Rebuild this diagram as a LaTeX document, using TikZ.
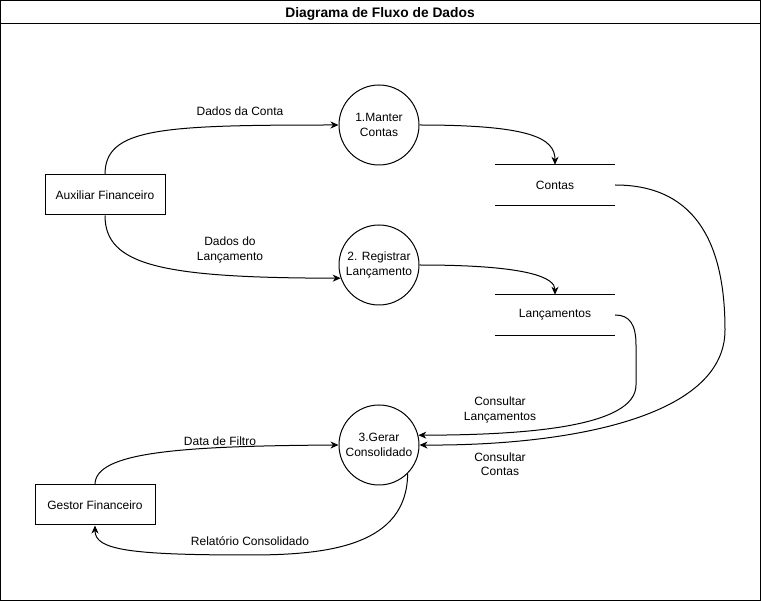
\documentclass[tikz,border=0pt]{standalone}
\usepackage{fontspec}
\setmainfont{Liberation Sans}
\usetikzlibrary{arrows.meta}
\begin{document}
\begin{tikzpicture}[x=1pt,y=-1pt,
  every node/.style={font=\fontsize{12}{14.5}\selectfont, align=center, inner sep=0pt},
  proc/.style={circle, draw, line width=1pt, minimum size=80pt},
  ent/.style={rectangle, draw, line width=1pt, minimum width=120pt, minimum height=40pt},
  store/.style={minimum width=120pt, minimum height=40pt},
  flow/.style={line width=1pt, -{Stealth[length=8pt,width=7pt,inset=2.5pt]}},
  lbl/.style={fill=none}]
\useasboundingbox (0,0) rectangle (761,601);
% frame
\draw[line width=1pt] (0.5,0.5) rectangle (760.5,600.5);
\draw[line width=1pt] (0.5,23.5) -- (760.5,23.5);
\node[font=\fontsize{13.8}{16}\selectfont\bfseries] (title) at (380,13.5) {Diagrama de Fluxo de Dados};
% nodes
\node[proc] (c1) at (379,125) {1.Manter\\Contas};
\node[proc] (c2) at (379,265) {2. Registrar\\Lançamento};
\node[proc] (c3) at (379,445) {3.Gerar\\Consolidado};
\node[ent] (aux) at (105,195) {Auxiliar Financeiro};
\node[ent] (ges) at (95,505) {Gestor Financeiro};
\node[store] (contas) at (555,185) {Contas};
\node[store] (lanc) at (555,315) {Lançamentos};
\draw[line width=1pt] (contas.north west) -- (contas.north east) (contas.south west) -- (contas.south east);
\draw[line width=1pt] (lanc.north west) -- (lanc.north east) (lanc.south west) -- (lanc.south east);
% flows
\draw[flow] (aux.north) .. controls (105,128) and (160,125) .. (c1.west);
\draw[flow] (aux.south) .. controls (105,265) and (160,278) .. (c2.199);
\draw[flow] (c1.east) .. controls (530,125) and (555,138) .. (contas.north);
\draw[flow] (c2.east) .. controls (530,265) and (555,278) .. (lanc.north);
\draw[flow] (contas.east) .. controls (700,185) and (725,250) .. (725,330) .. controls (725,420) and (560,446) .. (c3.east);
\draw[flow] (lanc.east) .. controls (630,315) and (636,325) .. (636,345) -- (636,385) .. controls (636,428) and (520,435) .. (c3.14);
\draw[flow] (ges.north) .. controls (95,452) and (180,446) .. (c3.west);
\draw[flow] (c3.315) .. controls (407,545) and (330,555) .. (250,555) .. controls (130,555) and (95,550) .. (ges.south);
% labels
\node[lbl] (l1) at (240,111) {Dados da Conta};
\node[lbl] (l2) at (230,250) {Dados do\\Lançamento};
\node[lbl] (l3) at (220,441) {Data de Filtro};
\node[lbl] (l4) at (250,541) {Relatório Consolidado};
\node[lbl] (l5) at (500,410) {Consultar\\Lançamentos};
\node[lbl] (l6) at (500,464) {Consultar\\Contas};
\end{tikzpicture}
\end{document}
